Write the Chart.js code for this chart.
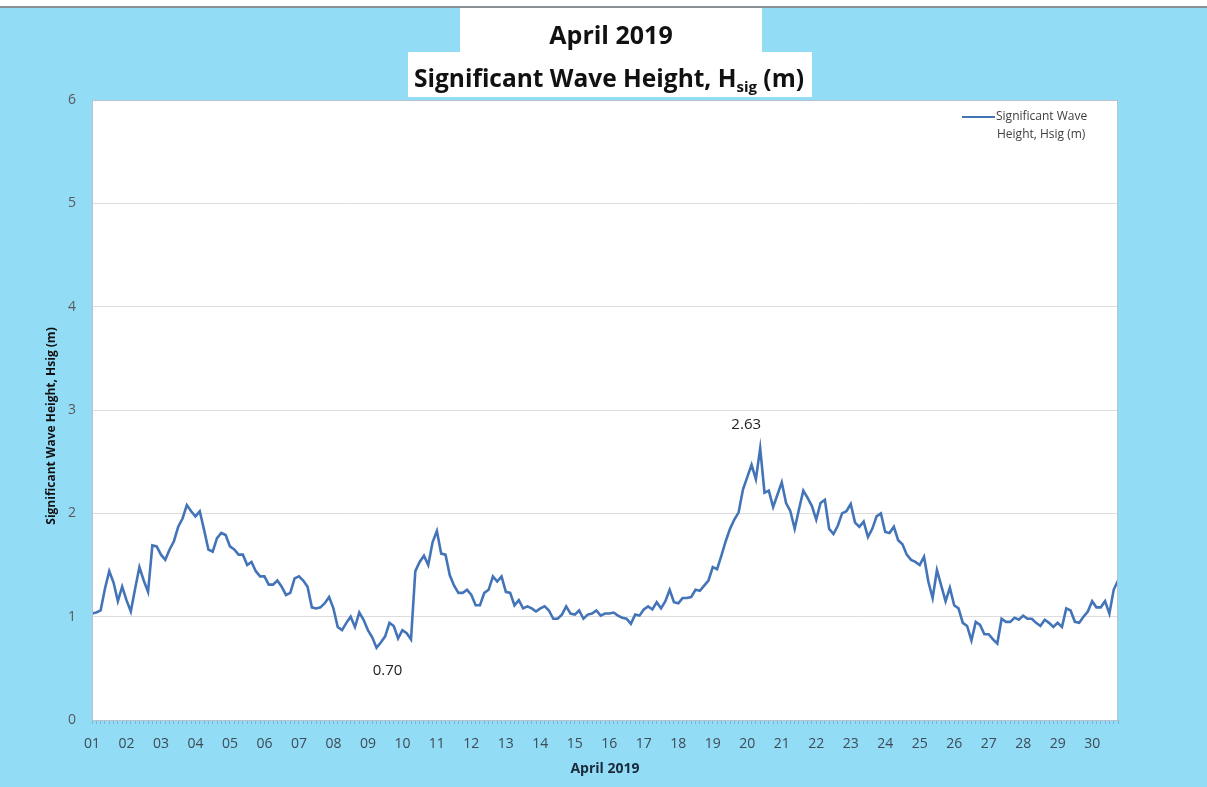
<!DOCTYPE html>
<html>
<head>
<meta charset="utf-8">
<script src="https://cdn.jsdelivr.net/npm/chart.js@4.4.1/dist/chart.umd.min.js"></script>
<style>
  html, body { margin: 0; padding: 0; background: #92dcf6; }
  #wrap { width: 1207px; height: 787px; }
</style>
</head>
<body>
<div id="wrap"><canvas id="waveChart" width="1207" height="787"></canvas></div>
<script>
// April 2019 significant wave height, read every 3 hours (x = days since 01 Apr 00:00)
const dayLabels = ["01","02","03","04","05","06","07","08","09","10","11","12","13","14","15",
  "16","17","18","19","20","21","22","23","24","25","26","27","28","29","30"];
const yTickValues = [0, 1, 2, 3, 4, 5, 6];
const stepDays = 0.125;

const hsigDays01to10 = [
  1.03, 1.04, 1.06, 1.27, 1.44, 1.33, 1.15, 1.29,
  1.16, 1.05, 1.27, 1.48, 1.35, 1.24, 1.69, 1.68,
  1.60, 1.55, 1.65, 1.73, 1.87, 1.95, 2.08, 2.02,
  1.97, 2.02, 1.84, 1.65, 1.63, 1.76, 1.81, 1.79,
  1.68, 1.65, 1.60, 1.60, 1.50, 1.53, 1.44, 1.39,
  1.39, 1.31, 1.31, 1.35, 1.29, 1.21, 1.23, 1.37,
  1.39, 1.35, 1.29, 1.09, 1.08, 1.09, 1.13, 1.19,
  1.08, 0.90, 0.87, 0.94, 1.00, 0.90, 1.04, 0.97,
  0.87, 0.80, 0.70, 0.75, 0.81, 0.94, 0.91, 0.79,
  0.87, 0.84, 0.78, 1.44, 1.53, 1.59, 1.50, 1.72
];
const hsigDays11to20 = [
  1.83, 1.61, 1.60, 1.40, 1.30, 1.23, 1.23, 1.26,
  1.21, 1.11, 1.11, 1.23, 1.26, 1.39, 1.34, 1.39,
  1.24, 1.23, 1.11, 1.16, 1.08, 1.10, 1.08, 1.05,
  1.08, 1.10, 1.06, 0.98, 0.98, 1.02, 1.10, 1.03,
  1.02, 1.06, 0.98, 1.02, 1.03, 1.06, 1.01, 1.03,
  1.03, 1.04, 1.01, 0.99, 0.98, 0.93, 1.02, 1.01,
  1.07, 1.10, 1.07, 1.14, 1.08, 1.15, 1.26, 1.14,
  1.13, 1.18, 1.18, 1.19, 1.26, 1.25, 1.30, 1.35,
  1.48, 1.46, 1.59, 1.73, 1.85, 1.94, 2.01, 2.23,
  2.35, 2.47, 2.33, 2.63, 2.20, 2.22, 2.06, 2.18
];
const hsigDays21to30 = [
  2.30, 2.10, 2.02, 1.85, 2.04, 2.22, 2.15, 2.07,
  1.94, 2.10, 2.13, 1.85, 1.80, 1.88, 2.00, 2.02,
  2.09, 1.91, 1.87, 1.92, 1.77, 1.85, 1.97, 2.00,
  1.82, 1.81, 1.87, 1.74, 1.70, 1.60, 1.55, 1.53,
  1.50, 1.58, 1.34, 1.18, 1.45, 1.30, 1.15, 1.28,
  1.11, 1.08, 0.94, 0.91, 0.77, 0.95, 0.92, 0.83,
  0.83, 0.78, 0.74, 0.98, 0.95, 0.95, 0.99, 0.97,
  1.01, 0.98, 0.98, 0.94, 0.91, 0.97, 0.94, 0.90,
  0.94, 0.90, 1.08, 1.06, 0.95, 0.94, 1.00, 1.05,
  1.15, 1.09, 1.09, 1.15, 1.03, 1.26, 1.35
];

const titleLine1 = "April 2019";
const titleLine2 = ["Significant Wave Height, H", "sig", " (m)"];
const seriesName = ["Significant Wave", "Height, Hsig (m)"];
const xTitle = "April 2019";
const yTitle = "Significant Wave Height, Hsig (m)";

const FONT = "'Open Sans', sans-serif";
const LINE_BLUE = "#4474b8";

const hsig = [...hsigDays01to10, ...hsigDays11to20, ...hsigDays21to30];
const points = hsig.map((v, i) => ({ x: i * stepDays, y: v }));

const backgroundPlugin = {
  id: "background",
  beforeDraw(chart) {
    const { ctx, chartArea: a, width } = chart;
    ctx.save();
    ctx.fillStyle = "#92dcf6";
    ctx.fillRect(0, 0, width, chart.height);
    ctx.fillStyle = "#ffffff";
    ctx.fillRect(0, 0, width, 6);
    ctx.fillStyle = "#8a8f94";
    ctx.fillRect(0, 6, width, 2);
    // plot area
    ctx.fillStyle = "#ffffff";
    ctx.fillRect(a.left, a.top, a.right - a.left, a.bottom - a.top);
    // title boxes
    ctx.fillRect(460, 8, 302, 45);
    ctx.fillRect(408, 52, 404, 45);
    ctx.fillStyle = "#111111";
    ctx.textAlign = "center";
    ctx.textBaseline = "alphabetic";
    ctx.font = "bold 25px " + FONT;
    ctx.fillText(titleLine1, 611, 44);
    const [main, sub, tail] = titleLine2;
    ctx.font = "bold 24.5px " + FONT;
    const wMain = ctx.measureText(main).width;
    const wTail = ctx.measureText(tail).width;
    ctx.font = "bold 15px " + FONT;
    const wSub = ctx.measureText(sub).width;
    let x = 609 - (wMain + wSub + wTail) / 2;
    ctx.textAlign = "left";
    ctx.font = "bold 24.5px " + FONT;
    ctx.fillText(main, x, 87);
    x += wMain;
    ctx.font = "bold 15px " + FONT;
    ctx.fillText(sub, x, 92);
    x += wSub;
    ctx.font = "bold 24.5px " + FONT;
    ctx.fillText(tail, x, 87);
    // y axis title
    ctx.save();
    ctx.translate(52, 426);
    ctx.rotate(-Math.PI / 2);
    ctx.textAlign = "center";
    ctx.textBaseline = "middle";
    ctx.font = "bold 12px " + FONT;
    ctx.fillText(yTitle, 0, 0);
    ctx.restore();
    ctx.restore();
  },
  afterDraw(chart) {
    const { ctx, chartArea: a } = chart;
    ctx.save();
    ctx.strokeStyle = "#b7c2cc";
    ctx.lineWidth = 1;
    ctx.strokeRect(a.left + 0.5, a.top + 0.5, a.right - a.left - 1, a.bottom - a.top);
    // legend
    ctx.strokeStyle = LINE_BLUE;
    ctx.lineWidth = 2;
    ctx.beginPath();
    ctx.moveTo(962, 117);
    ctx.lineTo(995, 117);
    ctx.stroke();
    ctx.fillStyle = "#404040";
    ctx.font = "12px " + FONT;
    ctx.textAlign = "left";
    ctx.textBaseline = "middle";
    ctx.fillText(seriesName[0], 996, 117);
    ctx.fillText(seriesName[1], 997, 135);
    // max / min labels
    const xs = chart.scales.x, ys = chart.scales.y;
    let iMax = 0, iMin = 0;
    hsig.forEach((v, i) => { if (v > hsig[iMax]) iMax = i; if (v < hsig[iMin]) iMin = i; });
    ctx.fillStyle = "#222222";
    ctx.font = "15px " + FONT;
    ctx.textAlign = "center";
    ctx.fillText(hsig[iMax].toFixed(2), xs.getPixelForValue(points[iMax].x) - 14, ys.getPixelForValue(hsig[iMax]) - 23);
    ctx.fillText(hsig[iMin].toFixed(2), xs.getPixelForValue(points[iMin].x) + 11, ys.getPixelForValue(hsig[iMin]) + 23);
    ctx.restore();
  }
};

new Chart(document.getElementById("waveChart"), {
  type: "line",
  data: {
    datasets: [
      {
        label: seriesName.join(" "),
        data: points,
        borderColor: LINE_BLUE,
        borderWidth: 2.6,
        pointRadius: 0,
        tension: 0,
        fill: false,
      },
    ],
  },
  options: {
    responsive: false,
    animation: false,
    layout: { padding: { top: 100, right: 89, left: 0, bottom: 0 } },
    plugins: {
      legend: { display: false },
      tooltip: { enabled: false },
    },
    scales: {
      x: {
        type: "linear",
        min: 0,
        max: 29.75,
        afterFit(scale) { scale.height = 67; },
        grid: { drawOnChartArea: false, drawTicks: true, tickLength: 4, color: "#7fb2d6" },
        border: { display: false },
        ticks: {
          stepSize: stepDays,
          autoSkip: false,
          maxRotation: 0,
          minRotation: 0,
          padding: 12,
          color: "#3f4a55",
          font: { family: FONT, size: 14 },
          callback: (v) => (Math.abs(v - Math.round(v)) < 1e-6 ? dayLabels[Math.round(v)] : ""),
        },
        title: {
          display: true,
          text: xTitle,
          color: "#1a2a3a",
          font: { family: FONT, size: 14, weight: "bold" },
          padding: { top: 0, bottom: 10 },
        },
      },
      y: {
        min: 0,
        max: 6,
        afterFit(scale) { scale.width = 92; },
        afterBuildTicks(scale) { scale.ticks = yTickValues.map((v) => ({ value: v })); },
        grid: { color: "#dddddd", drawTicks: false },
        border: { display: false },
        ticks: {
          padding: 16,
          color: "#595959",
          font: { family: FONT, size: 14 },
        },
      },
    },
  },
  plugins: [backgroundPlugin],
});
</script>
</body>
</html>
